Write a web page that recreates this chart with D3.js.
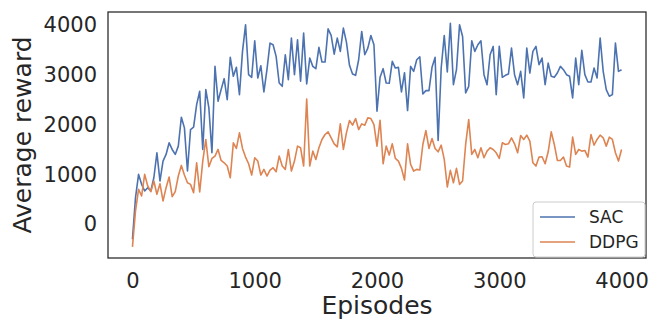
<!DOCTYPE html>
<head>
  <meta charset="utf-8">
  <script src="https://d3js.org/d3.v7.min.js"></script>
  <style>
body { margin: 0; background: #fff; }
text { font-family: "DejaVu Sans", sans-serif; fill: #262626; }
.tick text { font-size: 21px; }
.axis-label { font-size: 25px; }
.legend text { font-size: 17px; }
  </style>
</head>

<body>
  <script>
    // episodes run 0..4000 every 25 -> 161 points per run
    var episodeStep = 25;

    var sac = [-300,533,1000,800,667,733,667,933,1433,867, 1267,1400,1633,1500,1400,1567,2147,1933,1067,1900,
      1947,2400,2667,1500,2700,2333,1433,3167,2467,2700, 2920,2500,3347,2967,3147,2600,3467,4000,3000,2947,
      3680,2933,3180,2653,3100,3633,3600,3367,
      2833,2767,3400,2900,3733,3000,3700,2867,3833,2813, 3333,3167,3120,3547,3253,3253,3920,3787,3413,3733,
      3467,3933,3653,3187,3013,2987,3300,3867,3400,3533, 3787,3600,2267,2947,3120,2833,2827,3267,3133,3147,
      2653,3040,2280,3167,3067,3300,3360,2613,2680,2680, 3147,3347,1680,3133,3787,3053,4033,2800,3100,
      4000,3767,2633,2767,3680,3467,3600,3680,3000,2800, 3400,3567,2600,3567,2947,2987,3013,3533,3000,2800,
      3067,2533,3533,3033,3467,3567,3200,3333,2800,3233, 2967,2947,3033,3167,3100,3000,2967,2533,3333,2800,
      3487,3000,2853,2853,3133,2933,3733,3067,2700,2567, 2600,3633,3067,3100];

    var ddpg = [-453,267,700,567,1000,767,653,867,600,813, 467,733,947,553,653,967,1180,987,833,800,
      633,1233,647,1267,1700,1153,1320,1367,1500,1280, 1233,1167,933,1633,1520,1833,1520,1347,1213,987,
      1333,1267,987,1100,967,1087,1133,1053,
      1367,1167,1100,1500,1067,1267,1567,1533,1167,2513, 1167,1467,1300,1533,1700,1800,1853,1733,1613,1553,
      2013,1500,1833,2080,1987,2120,1900,2013,1987,2133, 2120,2000,1567,2087,1213,1567,1387,1613,1320,1267,
      1120,887,1613,1200,1067,1100,1087,1600,1880,1520, 1720,1520,1453,1587,1300,747,1080,833,1120,800,
      867,1600,2100,
      1400,1500,1333,1533,1333,1467,1533,1500,1433,1320, 1633,1600,1613,1733,1613,1433,1780,1700,1787,1667,
      1233,1167,1347,1353,1213,1453,1853,1600,1280,1280, 1347,1167,1147,1747,1400,1500,1467,1480,1347,1800,
      1587,1700,1787,1733,1567,1747,1700,1433,1267,1500];

    var seriesNames = ['SAC', 'DDPG'];
    var seriesColors = ['#4c72b0', '#dd8452'];
    var xTicks = [0, 1000, 2000, 3000, 4000];
    var yTicks = [0, 1000, 2000, 3000, 4000];

    var width = 664, height = 332;
    var plotLeft = 108, plotRight = 646, plotTop = 12, plotBottom = 258;

    var series = [sac, ddpg].map(function(vals, k) {
      return {
        name: seriesNames[k],
        color: seriesColors[k],
        points: vals.map(function(v, i) { return {ep: i * episodeStep, val: v}; })
      };
    });

    // matplotlib-like 5% margins
    var allPts = series[0].points.concat(series[1].points);
    var xExt = d3.extent(allPts, d => d.ep);
    var yExt = d3.extent(allPts, d => d.val);
    var xPad = (xExt[1] - xExt[0]) * 0.05, yPad = (yExt[1] - yExt[0]) * 0.05;

    var x = d3.scaleLinear().domain([xExt[0] - xPad, xExt[1] + xPad]).range([plotLeft, plotRight]);
    var y = d3.scaleLinear().domain([yExt[0] - yPad, yExt[1] + yPad]).range([plotBottom, plotTop]);

    var svg = d3.select("body").append("svg")
      .attr("width", width)
      .attr("height", height);

    var line = d3.line().x(d => x(d.ep)).y(d => y(d.val));

    svg.append('g').selectAll('path')
      .data(series)
      .enter().append('path')
      .attr('d', d => line(d.points))
      .attr('fill', 'none')
      .attr('stroke', d => d.color)
      .attr('stroke-width', 1.6)
      .attr('stroke-linejoin', 'round');

    // frame
    svg.append('rect')
      .attr('x', plotLeft).attr('y', plotTop)
      .attr('width', plotRight - plotLeft).attr('height', plotBottom - plotTop)
      .attr('fill', 'none').attr('stroke', '#262626').attr('stroke-width', 1.25);

    var xAxis = svg.append('g')
      .attr('transform', 'translate(0,' + plotBottom + ')')
      .call(d3.axisBottom(x).tickValues(xTicks).tickSize(0).tickPadding(15).tickFormat(d3.format('d')));
    xAxis.select('.domain').remove();

    var yAxis = svg.append('g')
      .attr('transform', 'translate(' + plotLeft + ',0)')
      .call(d3.axisLeft(y).tickValues(yTicks).tickSize(0).tickPadding(11).tickFormat(d3.format('d')));
    yAxis.select('.domain').remove();
    svg.selectAll('.tick text').attr('fill', '#262626').style('font-family', '"DejaVu Sans", sans-serif');

    svg.append('text')
      .attr('class', 'axis-label')
      .attr('x', (plotLeft + plotRight) / 2)
      .attr('y', 314)
      .attr('text-anchor', 'middle')
      .text('Episodes');

    svg.append('text')
      .attr('class', 'axis-label')
      .attr('transform', 'translate(31,' + ((plotTop + plotBottom) / 2) + ') rotate(-90)')
      .attr('text-anchor', 'middle')
      .text('Average reward');

    // legend, lower right
    var legend = svg.append('g').attr('class', 'legend')
      .attr('transform', 'translate(533,202)');
    legend.append('rect')
      .attr('width', 112).attr('height', 55)
      .attr('rx', 3)
      .attr('fill', 'rgba(255,255,255,0.8)')
      .attr('stroke', '#cccccc');
    var item = legend.selectAll('.item')
      .data(series)
      .enter().append('g')
      .attr('transform', (d, i) => 'translate(0,' + (15 + i * 25) + ')');
    item.append('line')
      .attr('x1', 7).attr('x2', 42)
      .attr('stroke', d => d.color).attr('stroke-width', 1.6);
    item.append('text')
      .attr('x', 56).attr('dy', '0.35em')
      .text(d => d.name);
  </script>
</body>
